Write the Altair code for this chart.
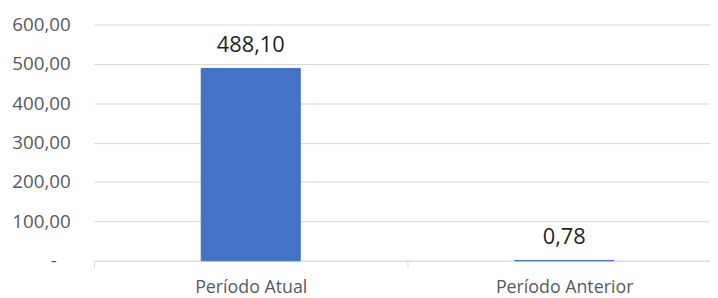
import altair as alt
import pandas as pd

categories = ["Período Atual", "Período Anterior"]
values = [488.10, 0.78]
y_ticks = [0, 100, 200, 300, 400, 500, 600]

df = pd.DataFrame({"cat": categories, "val": values})

FONT = "Open Sans"
GRAY = "#595959"

x_enc = alt.X(
    "cat:N",
    sort=categories,
    scale=alt.Scale(range=[0, 634], paddingInner=0, paddingOuter=0),
    axis=alt.Axis(
        title=None,
        labelAngle=0,
        labelFont=FONT,
        labelFontSize=18,
        labelColor=GRAY,
        labelPadding=11,
        domainColor="#d9d9d9",
        domainWidth=1,
        tickColor="#d9d9d9",
        tickSize=7,
        tickBand="extent",
        grid=False,
    ),
)

y_enc = alt.Y(
    "val:Q",
    scale=alt.Scale(domain=[0, 600], nice=False, zero=True),
    axis=alt.Axis(
        title=None,
        values=y_ticks,
        labelExpr="datum.value == 0 ? '-\u2800' : replace(format(datum.value, '.2f'), '.', ',')",
        labelFont=FONT,
        labelFontSize=19,
        labelColor=GRAY,
        labelPadding=24,
        labelOverlap=False,
        ticks=False,
        domain=False,
        gridColor="#d9d9d9",
        gridWidth=1,
    ),
)

base = alt.Chart(df).transform_calculate(
    lbl="replace(format(datum.val, '.2f'), '.', ',')"
).encode(x=x_enc, y=y_enc)

bars = base.mark_bar(
    color="#4472C4", stroke="#4472C4", strokeWidth=1,
    width=alt.RelativeBandSize(0.316)
)

labels = base.mark_text(
    baseline="bottom", dy=-12, font=FONT, fontSize=22, color="#1f1f1f"
).encode(text="lbl:N")

chart = alt.layer(bars, labels).properties(
    width=623,
    height=239,
    autosize=alt.AutoSizeParams(type="none"),
    padding={"left": 87, "top": 15, "right": 0, "bottom": 35},
).configure_view(stroke=None)

chart.save("out.html", embed_options={"renderer": "svg", "actions": False})
